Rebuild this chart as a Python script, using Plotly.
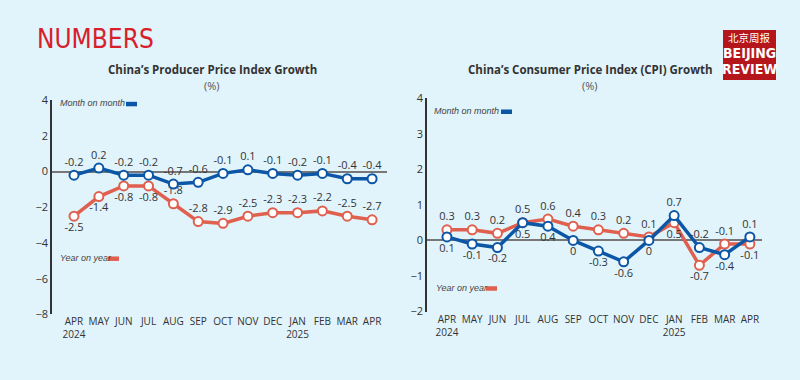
import plotly.graph_objects as go

months = ["APR", "MAY", "JUN", "JUL", "AUG", "SEP", "OCT", "NOV", "DEC", "JAN", "FEB", "MAR", "APR"]
tick_text = ["APR<br>2024", "MAY", "JUN", "JUL", "AUG", "SEP", "OCT", "NOV", "DEC", "JAN<br>2025", "FEB", "MAR", "APR"]

ppi_mom = [-0.2, 0.2, -0.2, -0.2, -0.7, -0.6, -0.1, 0.1, -0.1, -0.2, -0.1, -0.4, -0.4]
ppi_yoy = [-2.5, -1.4, -0.8, -0.8, -1.8, -2.8, -2.9, -2.5, -2.3, -2.3, -2.2, -2.5, -2.7]

cpi_mom = [0.1, -0.1, -0.2, 0.5, 0.4, 0, -0.3, -0.6, 0, 0.7, -0.2, -0.4, 0.1]
cpi_yoy = [0.3, 0.3, 0.2, 0.5, 0.6, 0.4, 0.3, 0.2, 0.1, 0.5, -0.7, -0.1, -0.1]

BLUE = "#0c56a6"
RED = "#e0604f"
BG = "#e1f3fb"
TXT = "#333333"
FONT = "Open Sans, Lato, sans-serif"

x_idx = list(range(len(months)))

def fmt(v):
    return "0" if v == 0 else f"{v:g}"

ppi_yoy_pos = ["bottom center"] * 4 + ["top center"] * 9
cpi_yoy_pos = ["top center" if y >= m and not (i == 9) else "bottom center" for i, (y, m) in enumerate(zip(cpi_yoy, cpi_mom))]
cpi_mom_pos = ["bottom center" if p == "top center" else "top center" for p in cpi_yoy_pos]
cpi_yoy_pos[3] = "bottom center"
cpi_mom_pos[3] = "top center"

fig = go.Figure()

def add_series(xa, ya, vals, color, pos):
    fig.add_trace(go.Scatter(
        x=x_idx, y=vals, xaxis=xa, yaxis=ya, mode="lines+markers+text",
        line=dict(color=color, width=3.5),
        marker=dict(size=9, color="white", line=dict(color=color, width=2)),
        text=[fmt(v) for v in vals], textposition=pos,
        textfont=dict(family=FONT, size=11, color=TXT),
        showlegend=False, cliponaxis=False, hoverinfo="skip"))

add_series("x", "y", ppi_yoy, RED, ppi_yoy_pos)
add_series("x", "y", ppi_mom, BLUE, "top center")
add_series("x2", "y2", cpi_yoy, RED, cpi_yoy_pos)
add_series("x2", "y2", cpi_mom, BLUE, cpi_mom_pos)

W, H = 800, 380
def px(x):
    return x / W
def py(y):
    return 1 - y / H

xcommon = dict(tickmode="array", tickvals=x_idx, ticktext=tick_text, showgrid=False,
               zeroline=False, showline=False, ticks="",
               tickfont=dict(family=FONT, size=10, color=TXT))
ycommon = dict(showgrid=False, zeroline=True, zerolinecolor="#777777", zerolinewidth=1.5,
               showline=True, linecolor="#333333", linewidth=1.5, ticks="",
               tickfont=dict(family=FONT, size=11, color=TXT))

fig.update_layout(
    width=W, height=H, margin=dict(l=0, r=0, t=0, b=0),
    paper_bgcolor=BG, plot_bgcolor=BG,
    xaxis=dict(domain=[px(52), px(387)], range=[-0.886, 12.6], anchor="y", **xcommon),
    yaxis=dict(domain=[py(319), py(96)], range=[-8, 4], dtick=2, anchor="x", **ycommon),
    xaxis2=dict(domain=[px(427), px(762)], range=[-0.79, 12.48], anchor="y2", **xcommon),
    yaxis2=dict(domain=[py(316), py(94)], range=[-2, 4], dtick=1, anchor="x2", **ycommon),
)

ann = []
ann.append(dict(x=px(35), y=py(32), xref="paper", yref="paper", text="NUMBERS", showarrow=False,
                xanchor="left", yanchor="middle",
                font=dict(family="Liberation Sans Narrow, DejaVu Sans Condensed, Roboto, sans-serif", size=26, color="#d7202a")))
for cx, t in [(212, "China’s Producer Price Index Growth"), (590, "China’s Consumer Price Index (CPI) Growth")]:
    ann.append(dict(x=px(cx), y=py(64), xref="paper", yref="paper", text=f"<b>{t}</b>", showarrow=False,
                    xanchor="center", yanchor="middle", font=dict(family=FONT, size=11.5, color=TXT)))
    ann.append(dict(x=px(cx), y=py(81), xref="paper", yref="paper", text="(%)", showarrow=False,
                    xanchor="center", yanchor="middle", font=dict(family=FONT, size=11, color="#555555")))

legend_items = [
    (58, 99, "Month on month", 126, 137, BLUE),
    (58, 260, "Year on year", 108, 119, RED),
    (432, 107, "Month on month", 501, 512, BLUE),
    (434, 291, "Year on year", 486, 497, RED),
]
shapes = []
for tx, ty, t, x0, x1, c in legend_items:
    ann.append(dict(x=px(tx), y=py(ty), xref="paper", yref="paper", text=f"<i>{t}</i>", showarrow=False,
                    xanchor="left", yanchor="middle", font=dict(family="Liberation Sans, Arial, sans-serif", size=9, color="#444444")))
    shapes.append(dict(type="line", xref="paper", yref="paper", x0=px(x0), x1=px(x1), y0=py(ty + 1), y1=py(ty + 1),
                       line=dict(color=c, width=4.5)))

# logo
shapes.append(dict(type="rect", xref="paper", yref="paper", x0=px(723), x1=px(776), y0=py(75), y1=py(23),
                   fillcolor="#b5161b", line=dict(color="#b5161b", width=0)))
ann.append(dict(x=px(749.5), y=py(31), xref="paper", yref="paper", text="北京周报", showarrow=False,
                xanchor="center", yanchor="middle", font=dict(family="Noto Sans CJK SC", size=10.5, color="white")))
ann.append(dict(x=px(749.5), y=py(47), xref="paper", yref="paper", text="<b>BEIJING</b>", showarrow=False,
                xanchor="center", yanchor="middle",
                font=dict(family="Liberation Sans Narrow, DejaVu Sans Condensed, Roboto, sans-serif", size=14, color="white")))
ann.append(dict(x=px(749.5), y=py(64), xref="paper", yref="paper", text="<b>REVIEW</b>", showarrow=False,
                xanchor="center", yanchor="middle",
                font=dict(family="Liberation Sans Narrow, DejaVu Sans Condensed, Roboto, sans-serif", size=14, color="white")))

fig.update_layout(annotations=ann, shapes=shapes)
fig.write_html("out.html", config={"displayModeBar": False},
               post_script="document.body.style.margin='0';document.body.style.background='#e1f3fb';document.body.style.overflow='hidden';")
